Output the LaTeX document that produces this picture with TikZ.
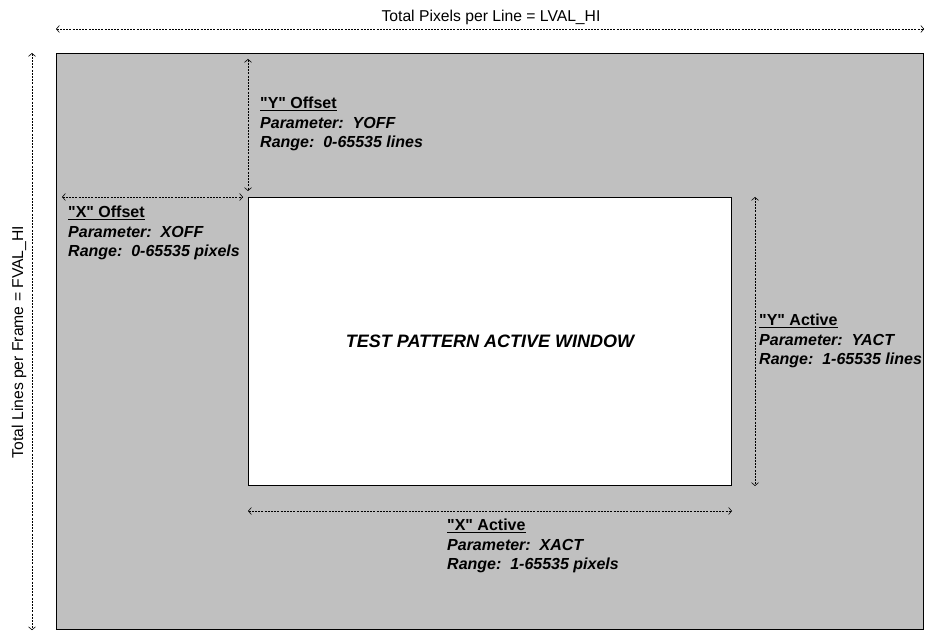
\documentclass[tikz,border=0pt]{standalone}
\usepackage{fontspec}
\setmainfont{Liberation Sans}
\usepackage{tikz}
\usetikzlibrary{arrows.meta, positioning}
\definecolor{silver}{RGB}{192,192,192}
\newcommand{\qt}[1]{\textquotedbl #1\textquotedbl}
\tikzstyle{frame} = [rectangle, draw=black, line width=1.2pt, fill=silver, inner sep=0]
\tikzstyle{window} = [rectangle, draw=black, line width=1pt, fill=white, inner sep=0, font=\fontsize{18}{22}\selectfont\bfseries\itshape]
\tikzstyle{label} = [inner sep=0, align=left, anchor=north west, font=\fontsize{16}{19.5}\selectfont\bfseries\itshape]
\tikzstyle{total} = [inner sep=0, font=\fontsize{15.7}{19}\selectfont]
\tikzstyle{dimarrow} = [line width=0.6pt, dash pattern=on 2pt off 1.2pt, {Straight Barb[length=3pt,width=7pt]}-{Straight Barb[length=3pt,width=7pt]}]

\begin{document}
\begin{tikzpicture}[x=1pt, y=-1pt]
\useasboundingbox (0,0) rectangle (927,631);

\node (frame) [frame, anchor=north west, minimum width=867pt, minimum height=576pt] at (56,53) {};
\node (window) [window, anchor=north west, minimum width=483pt, minimum height=288pt] at (248,197) {TEST PATTERN ACTIVE WINDOW};

% dimension lines
\coordinate (topl) at ([yshift=24pt]frame.north west);
\coordinate (topr) at ([yshift=24pt]frame.north east);
\coordinate (leftt) at ([xshift=-24pt]frame.north west);
\coordinate (leftb) at ([xshift=-24pt]frame.south west);
\coordinate (yofft) at ([yshift=-6pt]frame.north -| window.west);
\coordinate (yoffb) at ([yshift=6pt]window.north west);
\coordinate (xoffl) at ([xshift=6pt]frame.west |- window.north);
\coordinate (xoffr) at ([xshift=-5pt]window.north west);
\coordinate (yactt) at ([xshift=23pt]window.north east);
\coordinate (yactb) at ([xshift=23pt]window.south east);
\coordinate (xactl) at ([yshift=-25pt]window.south west);
\coordinate (xactr) at ([yshift=-25pt]window.south east);

\node (toptext) [total] at (491,17) {Total Pixels per Line = LVAL\_HI};
\node (lefttext) [total, rotate=90] at (19,342) {Total Lines per Frame = FVAL\_HI};

\node (yoff) [label] at (260,97) {\underline{\textup{\qt{Y} Offset}}\\Parameter:\ \ YOFF\\Range:\ \ 0-65535 lines};
\node (xoff) [label] at (68,206) {\underline{\textup{\qt{X} Offset}}\\Parameter:\ \ XOFF\\Range:\ \ 0-65535 pixels};
\node (yact) [label] at (759,314) {\underline{\textup{\qt{Y} Active}}\\Parameter:\ \ YACT\\Range:\ \ 1-65535 lines};
\node (xact) [label] at (447,519) {\underline{\textup{\qt{X} Active}}\\Parameter:\ \ XACT\\Range:\ \ 1-65535 pixels};

\draw [dimarrow] (topl) -- (topr);
\draw [dimarrow] (leftt) -- (leftb);
\draw [dimarrow] (yofft) -- (yoffb);
\draw [dimarrow] (xoffl) -- (xoffr);
\draw [dimarrow] (yactt) -- (yactb);
\draw [dimarrow] (xactl) -- (xactr);

\end{tikzpicture}
\end{document}
